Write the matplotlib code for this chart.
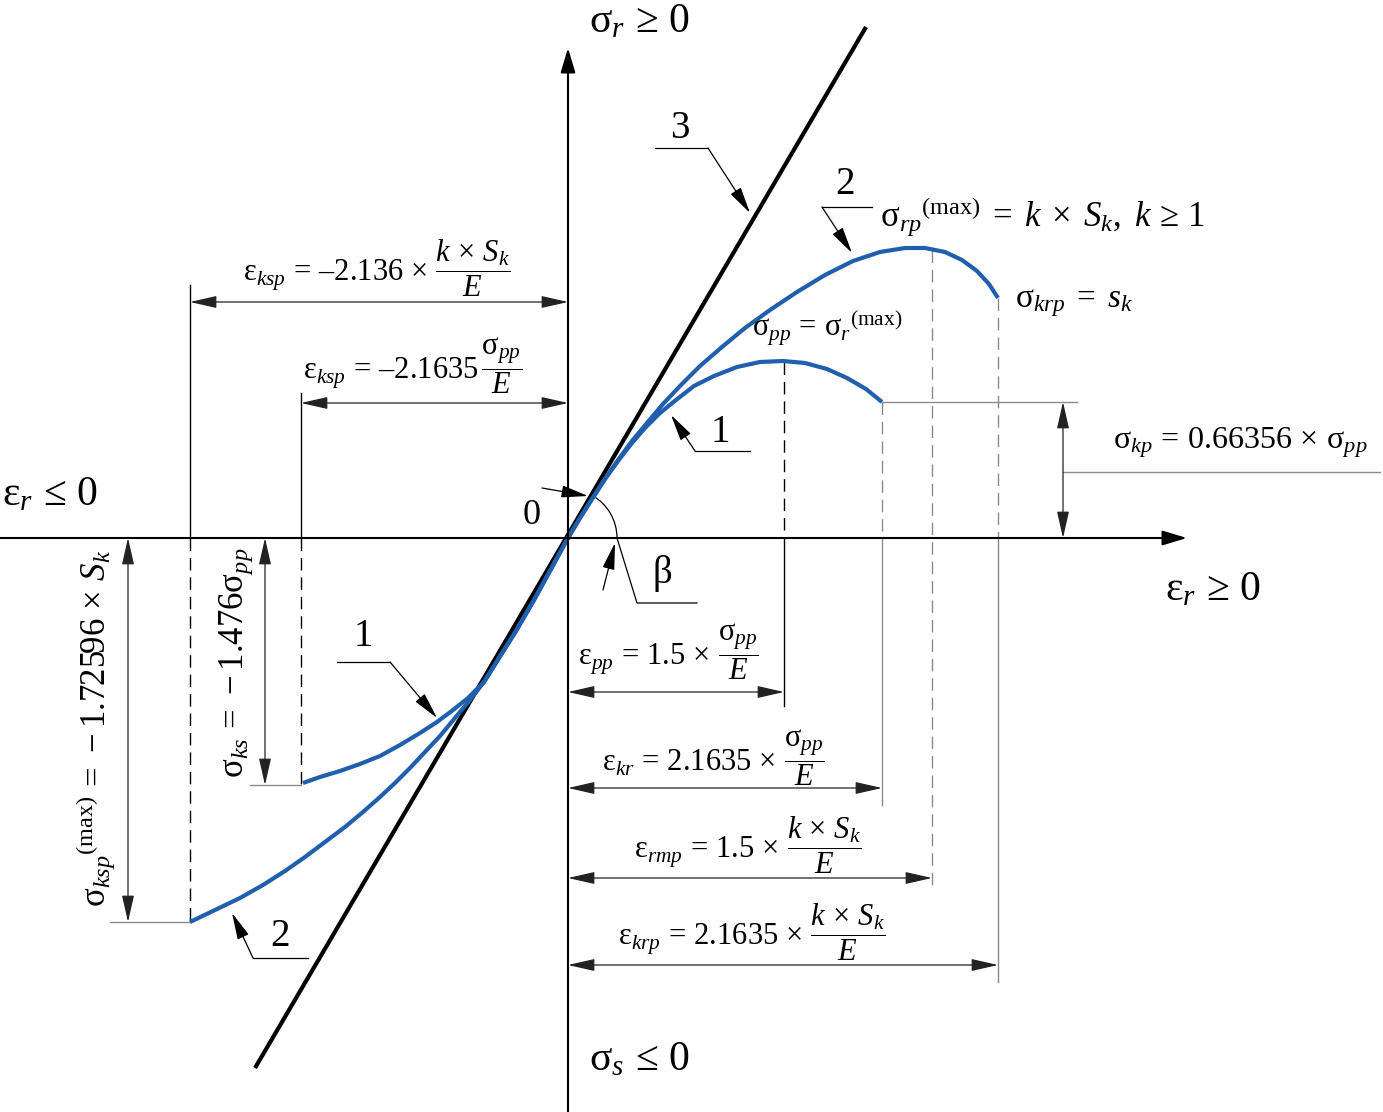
import matplotlib
matplotlib.use("Agg")
import matplotlib.pyplot as plt
from matplotlib.patches import Arc

plt.rcParams["font.family"] = ["Liberation Serif", "DejaVu Serif"]
plt.rcParams["mathtext.fontset"] = "custom"
plt.rcParams["mathtext.rm"] = "Liberation Serif"
plt.rcParams["mathtext.it"] = "Liberation Serif:italic"
plt.rcParams["mathtext.bf"] = "Liberation Serif:bold"

# everything is in picture units, origin of the diagram at (568, 538)
X0, Y0 = 568, 538
BLUE = "#1f5fae"
GREY = "#8a8a8a"

# line 3 (elastic line)
line3_x = [255, 866]
line3_y = [1068, 27]

# curve 2, tension side
c2_up_x = [568, 580, 592, 605, 618, 632, 647, 663, 680, 700, 722, 745, 770, 797, 825, 853,
           880, 905, 925, 945, 962, 977, 989, 998]
c2_up_y = [538, 518, 499, 479, 460, 441, 423, 404, 386, 366, 347, 328, 310, 292, 275, 261,
           252, 248, 248, 252, 260, 271, 284, 298]

# curve 1, tension side
c1_up_x = [568, 580, 592, 605, 618, 632, 645, 660, 676, 694, 714, 737, 760, 783, 805, 827,
           847, 866, 882]
c1_up_y = [538, 518, 499, 479, 461, 443, 428, 413, 400, 386, 376, 367, 362, 361, 363, 369,
           378, 389, 402]

# compression side
c1_dn_x = [568, 551, 534, 516, 499, 484, 468, 453, 437, 420, 400, 380, 360, 340, 320, 303]
c1_dn_y = [538, 569, 600, 631, 658, 682, 698, 710, 722, 733, 745, 756, 764, 771, 777, 783]
c2_dn_x = [568, 551, 534, 516, 499, 484, 470, 455, 440, 425, 410, 395, 380, 363, 345, 325,
           305, 285, 263, 240, 215, 190]
c2_dn_y = [538, 569, 600, 631, 658, 682, 700, 718, 736, 752, 768, 783, 797, 812, 827, 842,
           857, 871, 885, 898, 910, 922]

# vertical guide lines: x, top, bottom, style, colour
guides = [
    (190, 285, 538, "-", "black"),
    (190, 538, 922, "--", "black"),
    (301, 393, 538, "-", "black"),
    (301, 538, 785, "--", "black"),
    (784, 362, 538, "--", "black"),
    (784, 538, 706, "-", "black"),
    (882, 402, 538, "--", GREY),
    (882, 538, 805, "-", GREY),
    (932, 250, 885, "--", GREY),
    (998, 298, 538, "--", GREY),
    (998, 538, 982, "-", GREY),
]

# horizontal guide lines: y, left, right, colour
hguides = [
    (402, 882, 1077, GREY),
    (472, 1063, 1380, GREY),
    (785, 250, 301, GREY),
    (922, 110, 190, GREY),
]

# dimension arrows: start, end
dims = [
    ((190, 302), (568, 302)),
    ((301, 403), (568, 403)),
    ((568, 692), (784, 692)),
    ((568, 788), (882, 788)),
    ((568, 878), (932, 878)),
    ((568, 965), (998, 965)),
    ((1063, 402), (1063, 538)),
    ((265, 538), (265, 785)),
    ((128, 538), (128, 922)),
]

# leaders: shelf (x1, x2, y), tail point, arrow tip, label, label pos
leaders = [
    ((655, 708, 148), (708, 148), (750, 213), "3", (680, 128)),
    ((822, 872, 207), (822, 207), (852, 253), "2", (845, 185)),
    ((695, 750, 451), (695, 451), (671, 415), "1", (720, 433)),
    ((337, 390, 662), (390, 662), (437, 718), "1", (363, 637)),
    ((253, 308, 958), (253, 958), (232, 913), "2", (280, 937)),
]

S = r"\mathrm{σ}"
E = r"\mathrm{ε}"
EQ = r"\,=\,"
X = r"\,\times\,"
EQW = r"\;=\;"
XW = r"\;\times\;"
KSK = r"\dfrac{\mathit{k}\,\times\,\mathit{S}_{\mathit{k}}}{\mathit{E}}"
SPE = r"\dfrac{" + S + r"_{\mathit{pp}}}{\mathit{E}}"

labels = [
    (640, 22, "$" + S + r"_{\mathit{r}}\,\geq\,0$", 30, "center", 0),
    (50, 495, "$" + E + r"_{\mathit{r}}\,\leq\,0$", 30, "center", 0),
    (1213, 590, "$" + E + r"_{\mathit{r}}\,\geq\,0$", 30, "center", 0),
    (640, 1060, "$" + S + r"_{\mathit{s}}\,\leq\,0$", 30, "center", 0),
    (532, 516, "0", 26, "center", 0),
    (662, 573, "β", 28, "center", 0),
    (880, 216, "$" + S + r"_{\mathit{rp}}{}^{\mathrm{(max)}}" + EQW + r"\mathit{k}" + XW
     + r"\mathit{S}_{\mathit{k}},\ \mathit{k}\,\geq\,1$", 25, "left", 0),
    (1015, 303, "$" + S + r"_{\mathit{krp}}" + EQW + r"\mathit{s}_{\mathit{k}}$", 24, "left", 0),
    (752, 328, "$" + S + r"_{\mathit{pp}}" + EQ + S + r"_{\mathit{r}}{}^{\mathrm{(max)}}$", 22, "left", 0),
    (1113, 443, "$" + S + r"_{\mathit{kp}}" + EQ + r"0.66356" + X + S + r"_{\mathit{pp}}$", 23, "left", 0),
    (243, 268, "$" + E + r"_{\mathit{ksp}}" + EQ + r"–2.136" + X + KSK + "$", 22, "left", 0),
    (303, 366, "$" + E + r"_{\mathit{ksp}}" + EQ + r"–2.1635\," + SPE + "$", 22, "left", 0),
    (578, 652, "$" + E + r"_{\mathit{pp}}" + EQ + r"1.5" + X + SPE + "$", 22, "left", 0),
    (602, 758, "$" + E + r"_{\mathit{kr}}" + EQ + r"2.1635" + X + SPE + "$", 22, "left", 0),
    (634, 845, "$" + E + r"_{\mathit{rmp}}" + EQ + r"1.5" + X + KSK + "$", 22, "left", 0),
    (618, 932, "$" + E + r"_{\mathit{krp}}" + EQ + r"2.1635" + X + KSK + "$", 22, "left", 0),
    (95, 728, "$" + S + r"_{\mathit{ksp}}{}^{\mathrm{(max)}}" + EQ + r"-1.72596" + X
     + r"\mathit{S}_{\mathit{k}}$", 25, "center", 90),
    (236, 663, "$" + S + r"_{\mathit{ks}}" + EQ + r"-1.476" + S + r"_{\mathit{pp}}$", 25, "center", 90),
]


def arrow(ax, p1, p2, style, lw=0.9, color="black", scale=15):
    ax.annotate("", xy=p2, xytext=p1,
                arrowprops=dict(arrowstyle=style, color=color, lw=lw,
                                shrinkA=0, shrinkB=0, mutation_scale=scale))


fig = plt.figure(figsize=(13.83, 11.12), dpi=100)
ax = fig.add_axes([0, 0, 1, 1])
ax.set_xlim(0, 1383)
ax.set_ylim(1112, 0)
ax.axis("off")

# axes
arrow(ax, (0, Y0), (1187, Y0), "-|>,head_length=1.0,head_width=0.3", lw=1.5)
arrow(ax, (X0, 1112), (X0, 48), "-|>,head_length=1.0,head_width=0.3", lw=1.5)

for x, y1, y2, ls, c in guides:
    ax.plot([x, x], [y1, y2], color=c, lw=1.0,
            linestyle=(0, (9, 5)) if ls == "--" else "-")
for y, x1, x2, c in hguides:
    ax.plot([x1, x2], [y, y], color=c, lw=1.0)

for p1, p2 in dims:
    arrow(ax, p1, p2, "<|-|>,head_length=1.1,head_width=0.25", lw=0.9, color="#222222")

ax.plot(line3_x, line3_y, color="black", lw=3.0, solid_capstyle="butt")
for xs, ys in [(c2_up_x, c2_up_y), (c1_up_x, c1_up_y), (c1_dn_x, c1_dn_y), (c2_dn_x, c2_dn_y)]:
    ax.plot(xs, ys, color=BLUE, lw=3.0, solid_capstyle="butt", solid_joinstyle="round")

for (x1, x2, y), tail, tip, txt, pos in leaders:
    ax.plot([x1, x2], [y, y], color="black", lw=0.9)
    arrow(ax, tail, tip, "-|>,head_length=1.1,head_width=0.25", lw=0.9)
    ax.text(pos[0], pos[1], txt, fontsize=28, ha="center", va="center")

# angle beta
ax.add_patch(Arc((X0, Y0), 98, 98, theta1=-59.6, theta2=0, color="black", lw=0.9))
ax.plot([617, 637, 697], [538, 603, 603], color="black", lw=0.9)
arrow(ax, (603, 590), (615, 543), "-|>,head_length=1.1,head_width=0.25", lw=0.9)
arrow(ax, (542, 488), (588, 496), "-|>,head_length=1.1,head_width=0.25", lw=0.9)

for x, y, txt, size, ha, rot in labels:
    ax.text(x, y, txt, fontsize=size, ha=ha, va="center", rotation=rot)

fig.savefig("out.png", dpi=100)
